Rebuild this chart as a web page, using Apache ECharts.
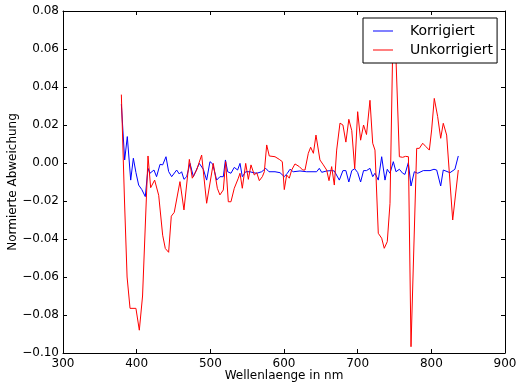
<!DOCTYPE html>
<html>
<head>
<meta charset="utf-8">
<script src="https://cdn.jsdelivr.net/npm/echarts@6/dist/echarts.min.js"></script>
<style>html,body{margin:0;padding:0;background:#fff;}#c{width:519px;height:383px;}</style>
</head>
<body>
<div id="c"></div>
<script>
var xTicks = [300, 400, 500, 600, 700, 800, 900];
var yTicks = [-0.10, -0.08, -0.06, -0.04, -0.02, 0.00, 0.02, 0.04, 0.06, 0.08];

var korrX = [379.2,383.7,387.3,391.9,395.5,399,402.7,407,411.7,415.4,418,423.5,427,431.7,435.3,439.8,443.4,447.5,449,454.3,457.9,461,464.2,467.9,472.4,477,485,490.5,495,499.5,503.2,508.6,513,517.6,520.5,523.5,528,532.5,537,540.3,543.4,548,553.8,558.3,563,569.7,575.2,579.6,587.8,594.6,600.4,604.5,608.1,612.6,621.7,630.8,644.3,647.9,651.2,657.9,664.7,668.3,675.1,680,684,688,692,696,700,704,708,712,716.7,720.4,723.5,728,732.6,737.1,740.2,743.9,748.4,752,756.6,761.1,764.2,768.8,772.4,776.9,781.5,789.1,798.2,803.6,807.3,812.7,816.2,825.3,832,836.6];
var korrY = [0.031,0.0016,0.0139,-0.009,0.0025,-0.005,-0.0116,-0.014,-0.0177,-0.0028,-0.0054,-0.0037,-0.0072,-0.0007,-0.001,0.0033,-0.0045,-0.0072,-0.0063,-0.0037,-0.0058,-0.0046,-0.0086,-0.0072,-0.0002,-0.0072,-0.0002,-0.0033,-0.009,0.0007,-0.0005,-0.009,-0.0072,-0.0072,0.0016,-0.0046,-0.0054,-0.0023,-0.0037,-0.0002,-0.0072,-0.0046,-0.0046,-0.0051,-0.0054,-0.0046,-0.0028,-0.0046,-0.0046,-0.0051,-0.0072,-0.0054,-0.0033,-0.0046,-0.0042,-0.0046,-0.0046,-0.0028,-0.0049,-0.0042,-0.004,-0.0042,-0.009,-0.004,-0.004,-0.010,-0.004,-0.003,-0.005,-0.010,-0.004,-0.004,-0.0028,-0.0072,-0.0054,-0.009,0.0033,-0.009,-0.0033,-0.0054,0.0007,-0.0046,-0.0033,-0.0054,-0.006,0.0002,-0.0121,-0.0046,-0.0054,-0.004,-0.004,-0.0033,-0.0037,-0.0121,-0.0037,-0.0051,-0.0033,0.0037];

var unkorrX = [379.2,383.5,387,391,399,403.6,408,415.4,419,424.4,427,429.9,435.3,438.9,443.4,447,451,458.8,464.2,471.5,475.5,481.4,488.2,495,504,509.5,513,517.6,520.8,524.4,528,532.5,538,540.3,543.4,548,551.6,555.2,559.7,563,566.5,570.6,573.3,576.5,580,587.8,593.6,597.7,600.4,603.6,607.2,610.4,614.9,620.8,625.4,628.5,633,636.2,639.9,643.4,648.8,653.4,657.9,661.1,664.7,668.3,671.5,676,680,684,688,692,696,700,704,708,712,716.7,720.4,723.5,728,732.6,736.1,740.2,743.9,748,752,756.6,761,765,768.9,772.4,780.1,783.7,788.3,792.7,797.3,800.4,804,808.6,812.7,816.2,820.8,829,836.6];
var unkorrY = [0.036,-0.020,-0.060,-0.0765,-0.0765,-0.088,-0.070,0.0037,-0.013,-0.009,-0.0098,-0.017,-0.038,-0.045,-0.047,-0.028,-0.026,-0.0098,-0.0247,0.0019,-0.008,-0.0037,0.0042,-0.0212,-0.0002,-0.0133,-0.0168,-0.0142,0.0007,-0.0204,-0.0204,-0.0133,-0.008,-0.0054,-0.0133,-0.0002,-0.0086,-0.001,-0.0063,-0.0051,-0.0093,-0.0072,-0.0046,0.0095,0.0037,0.0033,0.0019,0.0007,-0.014,-0.0063,-0.008,-0.0037,-0.0005,-0.0019,-0.0037,-0.0037,0.0051,0.0083,0.0051,0.0147,0.0016,-0.001,-0.0037,-0.0093,-0.0019,-0.0116,0.0068,0.021,0.020,0.011,0.023,0.017,-0.003,0.027,0.012,0.020,0.015,0.033,0.0104,0.0068,-0.037,-0.0396,-0.0449,-0.0414,-0.0212,0.070,0.055,0.0033,0.003,0.0035,0.0033,-0.0967,0.0077,0.0077,0.0104,0.0086,0.0068,0.0174,0.034,0.0244,0.013,0.0209,0.0147,-0.030,-0.0037];

function pairs(xs, ys){ var r=[]; for (var i=0;i<xs.length;i++) r.push([xs[i], ys[i]]); return r; }
var FONT = 'DejaVu Sans';
function yFmt(v){ return v.toFixed(2).replace('-', '\u2212'); }

var chart = echarts.init(document.getElementById('c'), null, {renderer:'canvas'});
var tickStyle = {show:true, inside:true, length:4, lineStyle:{color:'#000', width:1}};
var lineAx = {show:true, onZero:false, lineStyle:{color:'#000', width:1}};
chart.setOption({
  animation:false,
  backgroundColor:'#fff',
  grid:{left:63, right:14, top:11, bottom:30, containLabel:false, outerBoundsMode:'none'},
  legend:{
    left:363, top:18, orient:'vertical',
    padding:[6,4,6,10], itemGap:5, itemWidth:20, itemHeight:1, icon:'rect',
    backgroundColor:'#fff', borderColor:'#000', borderWidth:1, borderRadius:0,
    textStyle:{fontFamily:FONT, fontSize:14, color:'#000', padding:[0,0,0,12]},
    data:['Korrigiert','Unkorrigiert']
  },
  xAxis:[{
    type:'value', min:xTicks[0], max:xTicks[xTicks.length-1], interval:100, position:'bottom',
    name:'Wellenlaenge in nm', nameLocation:'middle', nameGap:17, nameMoveOverlap:false,
    nameTextStyle:{fontFamily:FONT, fontSize:12, color:'#000'},
    axisLine:lineAx, axisTick:tickStyle, splitLine:{show:false},
    axisLabel:{margin:5, fontFamily:FONT, fontSize:12, color:'#000'}
  },{
    type:'value', min:xTicks[0], max:xTicks[xTicks.length-1], interval:100, position:'top',
    axisLine:lineAx, axisTick:tickStyle, splitLine:{show:false}, axisLabel:{show:false}
  }],
  yAxis:[{
    type:'value', min:yTicks[0], max:yTicks[yTicks.length-1], interval:0.02, position:'left',
    name:'Normierte Abweichung', nameLocation:'middle', nameGap:44, nameMoveOverlap:false,
    nameTextStyle:{fontFamily:FONT, fontSize:12, color:'#000'},
    axisLine:lineAx, axisTick:tickStyle, splitLine:{show:false},
    axisLabel:{margin:4, fontFamily:FONT, fontSize:12, color:'#000', formatter:yFmt}
  },{
    type:'value', min:yTicks[0], max:yTicks[yTicks.length-1], interval:0.02, position:'right',
    axisLine:lineAx, axisTick:tickStyle, splitLine:{show:false}, axisLabel:{show:false}
  }],
  series:[{
    name:'Korrigiert', type:'line', xAxisIndex:0, yAxisIndex:0,
    data:pairs(korrX, korrY), symbol:'none', showSymbol:false,
    lineStyle:{color:'#0000ff', width:1}, itemStyle:{color:'#0000ff'}
  },{
    name:'Unkorrigiert', type:'line', xAxisIndex:0, yAxisIndex:0,
    data:pairs(unkorrX, unkorrY), symbol:'none', showSymbol:false,
    lineStyle:{color:'#ff0000', width:1}, itemStyle:{color:'#ff0000'}
  }]
});
</script>
</body>
</html>
